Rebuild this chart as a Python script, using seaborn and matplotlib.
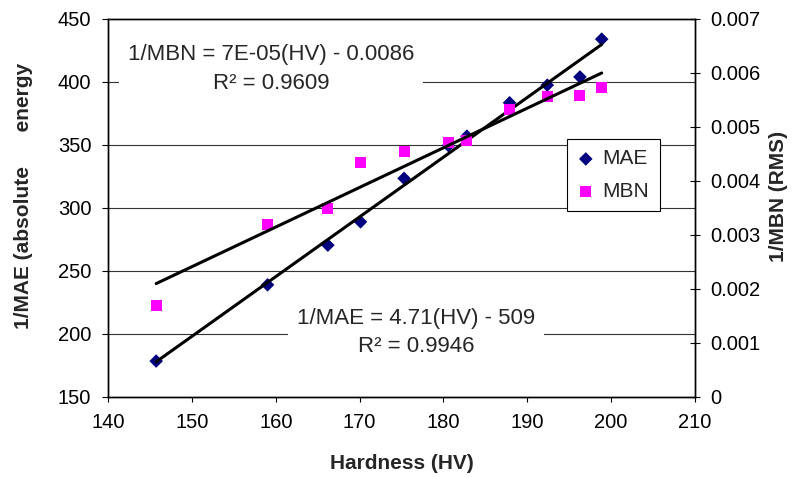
import numpy as np
import pandas as pd
import matplotlib
matplotlib.use('Agg')
import matplotlib.pyplot as plt
from matplotlib.ticker import FuncFormatter
import seaborn as sns


# values
hardness = [145.7, 159.0, 166.2, 170.1, 175.3, 180.6, 182.8, 187.9, 192.4, 196.3, 198.9]
inv_mae = [178.5, 239.0, 270.5, 289.0, 323.5, 349.5, 357.0, 383.5, 397.5, 404.0, 434.0]
inv_mbn = [0.00169, 0.00320, 0.00349, 0.00434, 0.00454, 0.00472, 0.00475,
           0.00532, 0.00557, 0.00559, 0.00573]

x_ticks = [140, 150, 160, 170, 180, 190, 200, 210]
left_ticks = [150, 200, 250, 300, 350, 400, 450]
right_ticks = [0, 0.001, 0.002, 0.003, 0.004, 0.005, 0.006, 0.007]

mbn_text = '1/MBN = 7E-05(HV) - 0.0086\nR\u00b2 = 0.9609'
mae_text = '1/MAE = 4.71(HV) - 509\nR\u00b2 = 0.9946'


def main():
    df = pd.DataFrame({'HV': hardness, 'MAE': inv_mae, 'MBN': inv_mbn})

    sns.set_style('white')
    plt.rcParams['font.family'] = ['Liberation Sans', 'DejaVu Sans']

    fig = plt.figure(figsize=(7.95, 4.78), dpi=100)
    ax = fig.add_axes([0.1364, 0.1695, 0.7374, 0.7908])
    ax2 = ax.twinx()

    # left axis: MAE
    sns.scatterplot(data=df, x='HV', y='MAE', ax=ax, marker='D', s=48,
                    color='#000080', edgecolor='none', label='MAE', zorder=4)
    sns.regplot(data=df, x='HV', y='MAE', ax=ax, scatter=False, ci=None,
                color='black', line_kws={'lw': 2.2, 'zorder': 5})

    # right axis: MBN
    sns.scatterplot(data=df, x='HV', y='MBN', ax=ax2, marker='s', s=64,
                    color='#FF00FF', edgecolor='none', label='MBN', zorder=4)
    sns.regplot(data=df, x='HV', y='MBN', ax=ax2, scatter=False, ci=None,
                color='black', line_kws={'lw': 2.2, 'zorder': 5})

    ax.set_xlim(140, 210)
    ax.set_ylim(150, 450)
    ax2.set_ylim(0, 0.007)
    ax.set_xticks(x_ticks)
    ax.set_yticks(left_ticks)
    ax2.set_yticks(right_ticks)
    ax2.yaxis.set_major_formatter(FuncFormatter(lambda v, p: '0' if v == 0 else f'{v:.3f}'))

    for y in left_ticks[1:-1]:
        ax.axhline(y, color='#333333', lw=0.8, zorder=1)

    for a in (ax, ax2):
        for sp in a.spines.values():
            sp.set_color('black')
            sp.set_linewidth(1.0)
    ax.tick_params(axis='x', direction='out', length=3.6, width=0.8, pad=8,
                   labelsize=14.5, colors='black', bottom=True)
    ax.tick_params(axis='y', direction='out', length=4.3, width=0.8, pad=8,
                   labelsize=14.5, colors='black', left=True)
    ax2.tick_params(axis='y', direction='inout', length=6.5, width=0.8, pad=8,
                    labelsize=14.5, colors='black', right=True)

    ax.set_xlabel('Hardness (HV)', fontsize=15, fontweight='bold')
    ax.xaxis.set_label_coords(0.5, -0.15)
    ax.set_ylabel('1/MAE (absolute      energy', fontsize=15, fontweight='bold')
    ax.yaxis.set_label_coords(-0.1286, 0.532)
    ax2.set_ylabel('1/MBN (RMS)', fontsize=15, fontweight='bold')
    ax2.yaxis.set_label_coords(1.127, 0.53)

    box = {'boxstyle': 'square,pad=0.4', 'facecolor': 'white', 'edgecolor': 'none'}
    ax.text(159.4, 410.3, mbn_text, ha='center', va='center', ma='center',
            fontsize=16, linespacing=1.45, bbox=box, zorder=6)
    ax.text(176.7, 201.3, mae_text, ha='center', va='center', ma='center',
            fontsize=16, linespacing=1.45, bbox=box, zorder=6)

    h1, l1 = ax.get_legend_handles_labels()
    h2, l2 = ax2.get_legend_handles_labels()
    if ax.get_legend() is not None:
        ax.get_legend().remove()
    leg = ax2.legend(h1 + h2, l1 + l2, loc='upper left', bbox_to_anchor=(0.7823, 0.6825),
                     borderaxespad=0, frameon=True, fancybox=False, fontsize=15,
                     handlelength=0.8, handletextpad=0.4, borderpad=0.5,
                     labelspacing=0.65, framealpha=1)
    leg.get_frame().set_edgecolor('black')
    leg.get_frame().set_linewidth(0.8)

    fig.savefig('out.png', dpi=100)


if __name__ == "__main__":
    main()
